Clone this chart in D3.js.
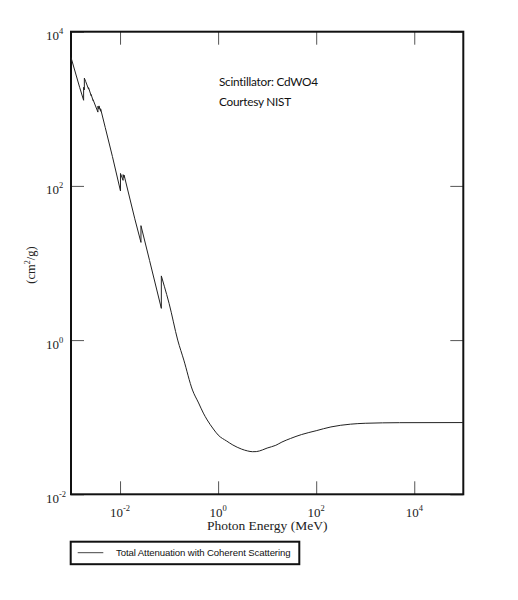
<!DOCTYPE html>
<html><head>
<meta charset="utf-8">
<script src="https://cdnjs.cloudflare.com/ajax/libs/d3/7.8.5/d3.min.js"></script>
<style>
  body { margin: 0; background: #fff; }
  svg { display: block; }
</style>
</head>
<body>
<div id="chart"></div>
<script>
// photon energy (MeV) and total attenuation (cm2/g)
const energy = [
  1.0e-3, 1.5e-3, 1.8089e-3, 1.809e-3, 1.872e-3, 1.8721e-3, 2.0e-3,
  2.2809e-3, 2.281e-3, 2.5749e-3, 2.575e-3, 2.8199e-3, 2.82e-3,
  3.5379e-3, 3.538e-3, 3.7269e-3, 3.727e-3, 4.0179e-3, 4.018e-3,
  5.0e-3, 7.0e-3, 1.0206e-2, 1.0207e-2, 1.1543e-2, 1.1544e-2,
  1.2099e-2, 1.21e-2, 2.0e-2, 2.6711e-2, 2.6712e-2, 4.0e-2,
  6.9524e-2, 6.9525e-2, 8.0e-2, 0.1, 0.15, 0.2, 0.3, 0.4, 0.5,
  0.6, 0.8, 1, 1.5, 2, 3, 4, 5, 6, 8, 10, 15, 20, 30, 50,
  100, 200, 500, 1000, 5000, 1e5
];
const attenuation = [
  4630, 1900, 1290, 1900, 1760, 2500, 2250,
  1800, 1880, 1480, 1530, 1280, 1310,
  906, 1080, 990, 1090, 930, 1000,
  570, 240, 86, 145, 118, 140,
  128, 138, 37.4, 18.5, 30.5, 10.8,
  2.58, 6.8, 5.0, 3.0, 1.0, 0.55, 0.225, 0.153, 0.113,
  0.092, 0.0703, 0.0588, 0.049, 0.0436, 0.0386, 0.0365, 0.0357, 0.0358, 0.0376,
  0.0398, 0.0432, 0.0476, 0.053, 0.0595,
  0.0668, 0.0748, 0.0812, 0.0834, 0.0849, 0.0852
];
const lastEdge = 6.9525e-2; // above the W K edge the curve is smooth
const xTicks = [1e-2, 1, 1e2, 1e4];
const xTickExp = ["-2", "0", "2", "4"];
const yTicks = [1e-2, 1, 1e2, 1e4];
const yTickExp = ["-2", "0", "2", "4"];
const seriesName = "Total Attenuation with Coherent Scattering";
const note = ["Scintillator: CdWO4", "Courtesy NIST"];

const W = 518, H = 600;
const plotL = 71, plotR = 463.3, plotT = 31.7, plotB = 494.3;

const svg = d3.select("#chart").append("svg")
  .attr("width", W).attr("height", H);

const x = d3.scaleLog().domain([1e-3, 1e5]).range([plotL, plotR]);
const y = d3.scaleLog().domain([1e-2, 1e4]).range([plotB, plotT]);

const serif = "'Liberation Serif', 'Times New Roman', serif";

// inward ticks on all four sides
function styleTicks(g) {
  g.select(".domain").remove();
  g.selectAll(".tick line").attr("stroke", "#555").attr("stroke-width", 1);
  g.selectAll(".tick text").remove();
}
svg.append("g").attr("transform", `translate(0,${plotB})`)
  .call(d3.axisBottom(x).tickValues(xTicks).tickSize(-13)).call(styleTicks);
svg.append("g").attr("transform", `translate(0,${plotT})`)
  .call(d3.axisTop(x).tickValues(xTicks).tickSize(-13)).call(styleTicks);
svg.append("g").attr("transform", `translate(${plotL},0)`)
  .call(d3.axisLeft(y).tickValues(yTicks).tickSize(-13)).call(styleTicks);
svg.append("g").attr("transform", `translate(${plotR},0)`)
  .call(d3.axisRight(y).tickValues(yTicks).tickSize(-13)).call(styleTicks);

// frame
svg.append("rect")
  .attr("x", plotL).attr("y", plotT)
  .attr("width", plotR - plotL).attr("height", plotB - plotT)
  .attr("fill", "none").attr("stroke", "#111").attr("stroke-width", 2);

// x tick labels
const xl = svg.append("g").selectAll("text").data(xTicks).join("text")
  .attr("x", d => x(d)).attr("y", plotB + 22.5)
  .attr("text-anchor", "middle")
  .attr("font-family", serif).attr("font-size", 13).attr("fill", "#222");
xl.append("tspan").text("10");
xl.append("tspan").attr("dy", -6).attr("font-size", 8.5).text((d, i) => xTickExp[i]);

// y tick labels
const yl = svg.append("g").selectAll("text").data(yTicks).join("text")
  .attr("x", 46).attr("y", d => y(d) + 8.5)
  .attr("font-family", serif).attr("font-size", 13).attr("fill", "#222");
yl.append("tspan").text("10");
yl.append("tspan").attr("dy", -6).attr("font-size", 8.5).text((d, i) => yTickExp[i]);

// axis titles
svg.append("text")
  .attr("x", (plotL + plotR) / 2).attr("y", plotB + 36)
  .attr("text-anchor", "middle")
  .attr("font-family", serif).attr("font-size", 13.5).attr("fill", "#222")
  .text("Photon Energy (MeV)");

const yt = svg.append("text")
  .attr("transform", `translate(35,${(plotT + plotB) / 2 + 2}) rotate(-90)`)
  .attr("text-anchor", "middle")
  .attr("font-family", serif).attr("font-size", 12.5).attr("fill", "#222");
yt.append("tspan").text("(cm");
yt.append("tspan").attr("dy", -5).attr("font-size", 8).text("2");
yt.append("tspan").attr("dy", 5).text("/g)");

// curve: jagged edge region drawn straight, smooth tail drawn with a monotone curve
const pts = energy.map((e, i) => [e, attenuation[i]]);
const edgePart = pts.filter(d => d[0] <= lastEdge);
const tailPart = pts.filter(d => d[0] >= lastEdge);
const curveStyle = p => p.attr("fill", "none").attr("stroke", "#222").attr("stroke-width", 1);
svg.append("path").datum(edgePart).call(curveStyle)
  .attr("d", d3.line().x(d => x(d[0])).y(d => y(d[1])));
svg.append("path").datum(tailPart).call(curveStyle)
  .attr("d", d3.line().curve(d3.curveMonotoneX).x(d => x(d[0])).y(d => y(d[1])));

// annotation
svg.append("g").selectAll("text").data(note).join("text")
  .attr("x", 219).attr("y", (d, i) => 86 + i * 19.5)
  .attr("font-family", "Lato, 'Open Sans', sans-serif").attr("font-size", 11.8)
  .attr("letter-spacing", -0.25)
  .attr("fill", "#111")
  .text(d => d);

// legend
const lg = svg.append("g");
lg.append("rect")
  .attr("x", 70.7).attr("y", 541.7).attr("width", 228.6).attr("height", 22.5)
  .attr("fill", "none").attr("stroke", "#111").attr("stroke-width", 2);
lg.append("line")
  .attr("x1", 77.7).attr("x2", 103.3).attr("y1", 552.7).attr("y2", 552.7)
  .attr("stroke", "#444").attr("stroke-width", 1);
lg.append("text")
  .attr("x", 116).attr("y", 556)
  .attr("font-family", "'Liberation Sans', Arial, sans-serif").attr("font-size", 9.6)
  .attr("letter-spacing", -0.1)
  .attr("fill", "#111")
  .text(seriesName);
</script>
</body></html>
